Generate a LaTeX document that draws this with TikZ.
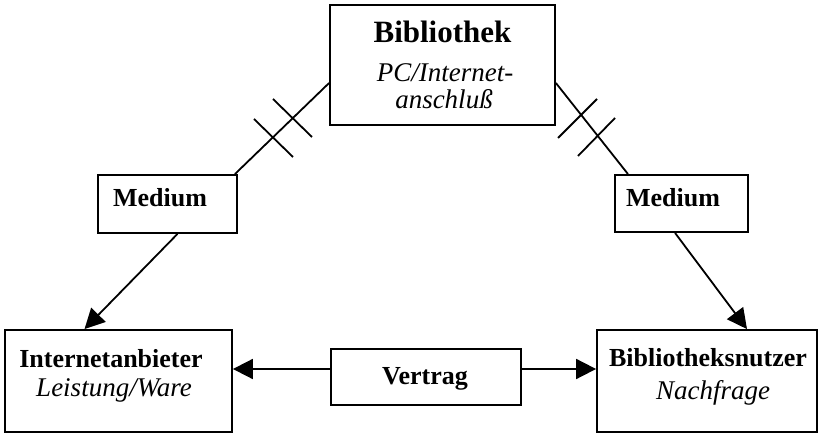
\documentclass[tikz,border=0pt]{standalone}
\usepackage{fontspec}
\setmainfont{Liberation Serif}
\usetikzlibrary{arrows.meta,calc}
\begin{document}
\begin{tikzpicture}[x=1pt,y=-1pt,
  box/.style={draw, line width=1.8pt, inner sep=0pt},
  txt/.style={anchor=base, inner sep=0pt},
  bold/.style={txt, font=\fontsize{26}{30}\selectfont\bfseries},
  ital/.style={txt, font=\fontsize{27}{30}\selectfont\itshape},
  conn/.style={line width=1.8pt},
  arr/.style={line width=1.8pt, -{Triangle[length=20pt,width=20pt]}},
  tick/.style={line width=1.8pt}]
\useasboundingbox (0,0) rectangle (823,435);

% boxes
\node[box, minimum width=225pt, minimum height=120pt] (bib) at (442.5,65) {};
\node[box, minimum width=139pt, minimum height=58pt] (medL) at (167.5,204) {};
\node[box, minimum width=133pt, minimum height=57pt] (medR) at (681.5,203.5) {};
\node[box, minimum width=227pt, minimum height=102pt] (anb) at (118.5,381) {};
\node[box, minimum width=220pt, minimum height=102pt] (nutz) at (707,381) {};
\node[box, minimum width=190pt, minimum height=56pt] (vert) at (426,377) {};

% texts
\node[txt, font=\fontsize{31}{34}\selectfont\bfseries] (bibT) at (442.5,43) {Bibliothek};
\node[ital] (bibS1) at (445,82) {PC/Internet-};
\node[ital] (bibS2) at (444,109) {anschluß};
\node[bold] (medLT) at (160,207) {Medium};
\node[bold] (medRT) at (673,207) {Medium};
\node[bold] (anbT) at (111,368) {Internetanbieter};
\node[ital] (anbS) at (114,397) {Leistung/Ware};
\node[bold] (nutzT) at (708,367) {Bibliotheksnutzer};
\node[ital] (nutzS) at (713,400) {Nachfrage};
\node[bold] (vertT) at (425,385) {Vertrag};

% connectors
\draw[conn] ([yshift=-18pt]bib.west) -- ([xshift=-3pt]medL.north east);
\draw[arr] ([xshift=10pt]medL.south) -- ([xshift=-34pt]anb.north);
\draw[conn] ([yshift=-18pt]bib.east) -- ([xshift=-53.5pt]medR.north);
\draw[arr] ([xshift=-6.5pt]medR.south) -- ([xshift=40pt]nutz.north);
\draw[arr] ([yshift=8pt]vert.west) -- ([yshift=8pt]vert.west -| anb.east);
\draw[arr] ([yshift=8pt]vert.east) -- ([yshift=8pt]vert.east -| nutz.west);

% double cross marks
\draw[tick] (273,99) -- (312,137);
\draw[tick] (254,119) -- (293,157);
\draw[tick] (558,138) -- (597,99);
\draw[tick] (578,156) -- (615,118);
\end{tikzpicture}
\end{document}
